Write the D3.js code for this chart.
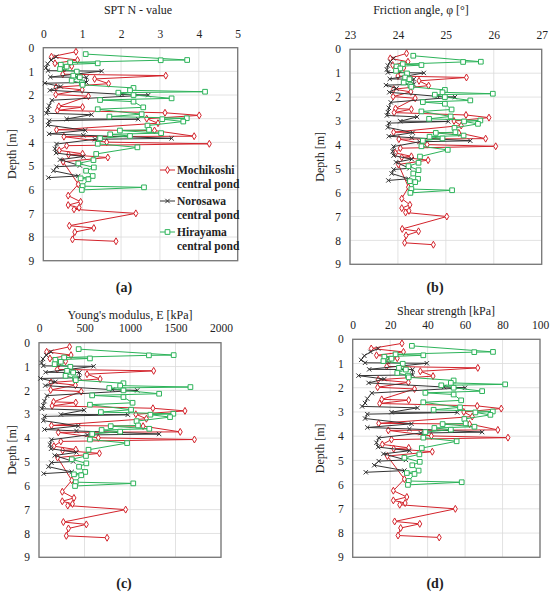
<!DOCTYPE html>
<html lang='en'>
<head>
    <meta charset='UTF-8'>
    <title>SPT profiles</title>
    <script src="https://cdn.jsdelivr.net/npm/d3@7"></script>
    <style>
        body { margin: 0; background: #fff; }
        text { font-family: 'Liberation Serif', 'DejaVu Serif', serif; fill: #222; }
    </style>
</head>
<body>
    <svg class="chart"></svg>
</body>
<script>
    // depth [m] of every test point, per site
    const mochiDepth = [0.17,0.38,0.52,0.66,0.78,0.88,1.12,1.18,1.32,1.52,1.67,1.78,1.98,2.05,2.48,2.51,2.65,2.75,2.86,3.00,3.19,3.47,3.50,3.74,3.76,3.99,4.06,4.14,4.34,4.48,4.52,4.64,4.82,5.77,6.25,6.51,6.65,6.76,6.83,7.00,7.52,7.62,7.79,8.10,8.18];
    const noroDepth = [0.38,0.52,0.68,0.85,0.97,0.99,1.24,1.25,1.47,1.50,1.64,1.80,1.97,2.00,2.22,2.45,2.63,2.77,2.83,3.01,3.02,3.09,3.27,3.49,3.64,3.70,3.83,3.87,4.07,4.27,4.45,4.60,4.73,4.98,5.03,5.20,5.42,5.49];
    const hiraDepth = [0.27,0.52,0.53,0.62,0.66,0.72,0.80,0.90,1.01,1.18,1.25,1.39,1.50,1.57,1.70,1.80,1.86,1.90,2.00,2.14,2.21,2.28,2.52,2.60,2.81,2.91,2.98,3.02,3.12,3.29,3.47,3.50,3.61,3.66,3.73,3.83,4.06,4.21,4.49,4.75,4.89,5.06,5.20,5.42,5.52,5.56,5.85,5.90,6.01];

    // (a) SPT N value
    const mochiN = [0.84,0.21,0.88,0.30,0.73,0.55,0.50,3.15,1.32,1.68,0.33,1.00,0.32,1.16,0.40,1.01,0.36,3.13,4.01,2.66,2.95,0.34,2.86,3.88,0.53,1.63,4.27,0.60,0.41,1.01,0.65,1.66,0.51,0.90,0.64,0.96,0.64,0.92,0.79,2.38,0.67,1.30,0.81,0.75,1.87];
    const noroN = [0.33,0.20,0.11,0.07,0.12,1.50,0.18,1.11,1.11,0.04,0.45,0.17,2.02,2.70,0.22,0.15,0.12,0.08,1.24,0.60,2.44,0.15,0.12,1.08,0.15,1.03,3.30,1.33,0.34,0.30,0.33,1.03,0.43,0.94,0.34,0.26,0.90,0.13];
    const hiraN = [1.09,3.70,3.02,0.69,1.40,0.45,0.60,0.43,0.86,0.77,0.94,0.73,0.99,1.01,2.32,2.23,4.16,1.93,2.32,3.30,1.46,2.32,2.57,1.40,2.53,1.70,3.69,3.06,3.60,2.68,2.72,1.97,3.03,1.72,2.23,1.46,1.40,2.42,1.36,1.29,0.90,1.30,1.10,1.27,0.96,1.16,1.01,2.59,0.99];

    // (b) friction angle [deg]
    const mochiPhi = [24.18,23.84,24.21,23.89,24.12,24.03,24.00,25.43,24.44,24.64,23.91,24.27,23.90,24.36,23.95,24.28,23.92,25.42,25.90,25.17,25.32,23.91,25.27,25.83,24.02,24.61,26.04,24.05,23.95,24.28,24.08,24.63,24.01,24.22,24.08,24.25,24.08,24.23,24.16,25.02,24.09,24.43,24.17,24.14,24.74];
    const noroPhi = [23.91,23.84,23.79,23.77,23.79,24.54,23.83,24.33,24.33,23.75,23.97,23.82,24.82,25.19,23.85,23.81,23.79,23.77,24.40,24.05,25.05,23.81,23.79,24.31,23.81,24.29,25.51,24.45,23.91,23.89,23.91,24.29,23.96,24.24,23.91,23.87,24.22,23.80];
    const hiraPhi = [24.32,25.73,25.36,24.10,24.49,23.97,24.05,23.96,24.19,24.15,24.24,24.12,24.26,24.28,24.98,24.93,25.98,24.77,24.98,25.51,24.52,24.98,25.12,24.49,25.10,24.65,25.72,25.38,25.67,25.18,25.20,24.79,25.37,24.66,24.93,24.52,24.49,25.04,24.46,24.43,24.22,24.43,24.32,24.42,24.25,24.36,24.28,25.13,24.26];

    // (c) Young's modulus [kPa]
    const mochiE = [336,84,352,120,292,220,200,1260,528,672,132,400,128,464,160,404,144,1252,1604,1064,1180,136,1144,1552,212,652,1708,240,164,404,260,664,204,360,256,384,256,368,316,952,268,520,324,300,748];
    const noroE = [132,80,44,28,48,600,72,444,444,16,180,68,808,1080,88,60,48,32,496,240,976,60,48,432,60,412,1320,532,136,120,132,412,172,376,136,104,360,52];
    const hiraE = [436,1480,1208,276,560,180,240,172,344,308,376,292,396,404,928,892,1664,772,928,1320,584,928,1028,560,1012,680,1476,1224,1440,1072,1088,788,1212,688,892,584,560,968,544,516,360,520,440,508,384,464,404,1036,396];

    // (d) shear strength [kPa]
    const mochiSu = [26.3,9.9,27.1,12.7,23.8,19.5,18.2,66.8,36.1,42.9,13.6,29.7,13.3,33.0,15.5,29.9,14.4,66.5,79.3,59.3,63.8,13.9,62.4,77.5,19.0,42.0,82.9,20.7,15.8,29.9,21.9,42.5,18.5,27.6,21.7,28.9,21.7,28.0,25.1,54.8,22.4,35.8,25.6,24.2,46.2];
    const noroSu = [13.6,9.5,6.2,4.5,6.6,39.6,8.8,32.0,32.0,3.1,16.9,8.5,48.8,60.0,10.2,7.8,6.6,5.0,34.6,20.7,55.8,7.8,6.6,31.4,7.8,30.3,69.1,36.3,13.9,12.7,13.6,30.3,16.4,28.4,13.9,11.5,27.6,7.0];
    const hiraSu = [31.6,74.9,64.9,22.9,37.7,16.9,20.7,16.4,26.7,24.7,28.4,23.8,29.5,29.9,53.9,52.4,81.4,47.3,53.9,69.1,38.8,53.9,57.9,37.7,57.3,43.2,74.8,65.5,73.5,59.6,60.3,48.0,65.0,43.6,52.4,38.8,37.7,55.5,36.9,35.6,27.6,35.8,31.8,35.2,28.9,33.0,29.9,58.2,29.5];

    const siteNames = ['Mochikoshi', 'Norosawa', 'Hirayama'];
    const depthTicks = [0,1,2,3,4,5,6,7,8,9];
    const nTicks = [0,1,2,3,4,5];
    const phiTicks = [23,24,25,26,27];
    const eTicks = [0,500,1000,1500,2000];
    const suTicks = [0,20,40,60,80,100];

    const width = 550, height = 594;
    const serif = "'Liberation Serif', 'DejaVu Serif', serif";
    const svg = d3.select('.chart').attr('width', width).attr('height', height);

    const colors = ['#d3232b', '#333333', '#2db35a'];
    const symbols = [d3.symbolDiamond, d3.symbolTimes, d3.symbolSquare];
    const symSize = [14, 14, 22];

    const panels = [
        {box: [43.3, 237.7, 47.7, 260.7], ticks: nTicks, vals: [mochiN, noroN, hiraN],
         title: 'SPT N - value', titleX: 138, titleY: 14, tickY: 38, labX: 12, cap: '(a)', capX: 124, capY: 292, legend: true},
        {box: [350, 541.7, 49.3, 264.3], ticks: phiTicks, vals: [mochiPhi, noroPhi, hiraPhi],
         title: 'Friction angle, \u03c6 [\u00b0]', titleX: 421, titleY: 14, tickY: 39.5, labX: 320, cap: '(b)', capX: 435, capY: 292},
        {box: [39, 221, 342.7, 557.3], ticks: eTicks, vals: [mochiE, noroE, hiraE],
         title: "Young's modulus, E [kPa]", titleX: 130, titleY: 319, tickY: 332, labX: 12, cap: '(c)', capX: 124, capY: 588},
        {box: [352.7, 540, 339.3, 557.3], ticks: suTicks, vals: [mochiSu, noroSu, hiraSu],
         title: 'Shear strength [kPa]', titleX: 446, titleY: 315, tickY: 329, labX: 320, cap: '(d)', capX: 435, capY: 588}
    ];
    const depths = [mochiDepth, noroDepth, hiraDepth];

    panels.forEach(p => {
        const [x0, x1, y0, y1] = p.box;
        const x = d3.scaleLinear().domain(d3.extent(p.ticks)).range([x0, x1]);
        const y = d3.scaleLinear().domain([0, 9]).range([y0, y1]);
        const g = svg.append('g');

        // grid
        g.append('g').selectAll('line').data(p.ticks).enter().append('line')
            .attr('x1', d => x(d)).attr('x2', d => x(d)).attr('y1', y0).attr('y2', y1)
            .attr('stroke', '#dadada').attr('stroke-width', 0.8);
        g.append('g').selectAll('line').data(depthTicks).enter().append('line')
            .attr('x1', x0).attr('x2', x1).attr('y1', d => y(d)).attr('y2', d => y(d))
            .attr('stroke', '#dadada').attr('stroke-width', 0.8);

        // axes: labels on top and left, no tick marks
        const xAxis = g.append('g').attr('transform', `translate(0,${p.tickY - 4})`)
            .call(d3.axisTop(x).tickValues(p.ticks).tickFormat(d3.format('d')).tickSize(0).tickPadding(0));
        const yAxis = g.append('g').attr('transform', `translate(${x0 - 9},0)`)
            .call(d3.axisLeft(y).tickValues(depthTicks).tickFormat(d3.format('d')).tickSize(0).tickPadding(0));
        [xAxis, yAxis].forEach(a => {
            a.attr('font-family', serif).attr('font-size', 11.5);
            a.select('.domain').remove();
            a.selectAll('text').attr('fill', '#222');
        });
        xAxis.selectAll('text').attr('dy', '0.32em');

        g.append('rect').attr('x', x0).attr('y', y0).attr('width', x1 - x0).attr('height', y1 - y0)
            .attr('fill', 'none').attr('stroke', '#777').attr('stroke-width', 1.3);

        // series
        const line = d3.line().x(d => x(d[1])).y(d => y(d[0]));
        p.vals.forEach((vals, i) => {
            const pts = depths[i].map((dep, k) => [dep, vals[k]]);
            g.append('path').datum(pts).attr('d', line)
                .attr('fill', 'none').attr('stroke', colors[i]).attr('stroke-width', 1);
            g.append('g').selectAll('path').data(pts).enter().append('path')
                .attr('transform', d => `translate(${x(d[1])},${y(d[0])})`)
                .attr('d', d3.symbol().type(symbols[i]).size(symSize[i]))
                .attr('fill', i === 1 ? 'none' : '#fff')
                .attr('stroke', colors[i]).attr('stroke-width', 1);
        });

        g.append('text').attr('x', p.titleX).attr('y', p.titleY).attr('text-anchor', 'middle')
            .style('font-size', '12px').text(p.title);
        g.append('text').attr('transform', `translate(${p.labX},${(y0 + y1) / 2}) rotate(-90)`)
            .attr('dy', '0.35em').attr('text-anchor', 'middle').style('font-size', '12px').text('Depth [m]');
        g.append('text').attr('x', p.capX).attr('y', p.capY).attr('text-anchor', 'middle')
            .style('font-size', '14px').style('font-weight', 'bold').text(p.cap);

        if (p.legend) {
            const lg = g.append('g').selectAll('g').data(siteNames).enter().append('g')
                .attr('transform', (d, i) => `translate(160,${170 + i * 31})`);
            lg.append('line').attr('x1', 0).attr('x2', 15)
                .attr('stroke', (d, i) => colors[i]).attr('stroke-width', 1);
            lg.append('path').attr('transform', 'translate(7.5,0)')
                .attr('d', (d, i) => d3.symbol().type(symbols[i]).size(symSize[i])())
                .attr('fill', (d, i) => i === 1 ? 'none' : '#fff')
                .attr('stroke', (d, i) => colors[i]);
            lg.append('text').attr('x', 17).attr('dy', '0.35em')
                .style('font-size', '11.5px').style('font-weight', 'bold').text(d => d);
            lg.append('text').attr('x', 17).attr('y', 13.5).attr('dy', '0.35em')
                .style('font-size', '11.5px').style('font-weight', 'bold').text('central pond');
        }
    });
</script>
</html>
